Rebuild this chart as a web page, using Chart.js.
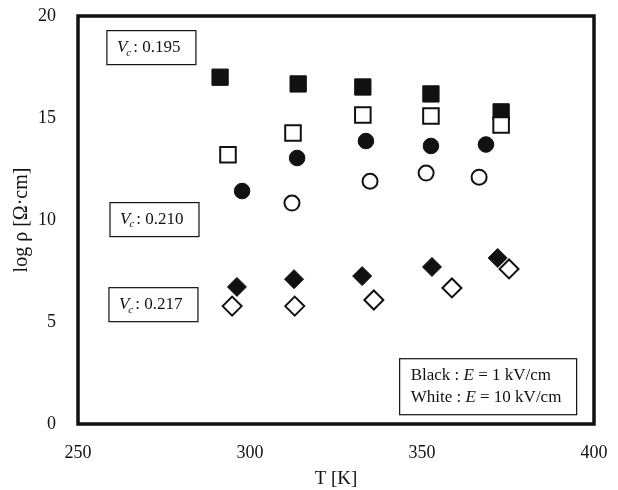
<!DOCTYPE html>
<html lang="en">
  <head>
    <title>log rho vs T</title>
    <meta charset="UTF-8" />
    <script src="https://cdnjs.cloudflare.com/ajax/libs/Chart.js/4.4.1/chart.umd.min.js"></script>
    <style>
      html, body { margin: 0; padding: 0; background: #fff; }
      #wrap { width: 618px; height: 490px; }
    </style>
  </head>
  <body>
    <div id="wrap"><canvas id="grafico"></canvas></div>
    <script>
      // data (T in K, log rho)
      const xTicks = [250, 300, 350, 400];
      const yTicks = [0, 5, 10, 15, 20];
      const vcValues = ['0.195', '0.210', '0.217'];

      const sqBlackT = [291.3, 314.0, 332.8, 352.6, 373.0];
      const sqBlackR = [17.0, 16.67, 16.52, 16.18, 15.3];
      const sqWhiteT = [293.6, 312.5, 332.8, 352.6, 373.0];
      const sqWhiteR = [13.2, 14.26, 15.15, 15.1, 14.66];

      const ciBlackT = [297.7, 313.7, 333.7, 352.6, 368.6];
      const ciBlackR = [11.42, 13.04, 13.87, 13.63, 13.7];
      const ciWhiteT = [312.2, 334.9, 351.2, 366.6];
      const ciWhiteR = [10.83, 11.9, 12.3, 12.1];

      const diBlackT = [296.2, 312.8, 332.6, 352.9, 372.0];
      const diBlackR = [6.72, 7.1, 7.25, 7.7, 8.14];
      const diWhiteT = [294.8, 313.0, 336.0, 358.7, 375.3];
      const diWhiteR = [5.78, 5.78, 6.08, 6.67, 7.6];

      function pts(xs, ys) {
        return xs.map(function (x, i) { return { x: x, y: ys[i] }; });
      }

      var serif = '"Liberation Serif", "DejaVu Serif", serif';

      function mark(label, xs, ys, style, filled, r) {
        return {
          label: label,
          data: pts(xs, ys),
          pointStyle: style,
          pointRadius: r,
          pointHoverRadius: r,
          backgroundColor: filled ? '#111' : '#fff',
          borderColor: '#111',
          borderWidth: filled ? 1 : 2,
          showLine: false,
        };
      }

      // white first so they sit on top of the black ones
      var datasets = [
        mark('sq 10', sqWhiteT, sqWhiteR, 'rect', false, 11),
        mark('ci 10', ciWhiteT, ciWhiteR, 'circle', false, 7.5),
        mark('di 10', diWhiteT, diWhiteR, 'rectRot', false, 9.5),
        mark('sq 1', sqBlackT, sqBlackR, 'rect', true, 11.5),
        mark('ci 1', ciBlackT, ciBlackR, 'circle', true, 7.8),
        mark('di 1', diBlackT, diBlackR, 'rectRot', true, 9.5),
      ];

      // frame + text boxes
      var boxes = {
        id: 'boxes',
        afterDraw: function (chart) {
          var ctx = chart.ctx;
          var a = chart.chartArea;
          var xs = chart.scales.x, ys = chart.scales.y;
          ctx.save();
          ctx.strokeStyle = '#111';
          ctx.lineWidth = 3.5;
          ctx.strokeRect(a.left, a.top, a.right - a.left, a.bottom - a.top);

          // Vc boxes, anchored in data coords
          var spots = [[258.4, 18.45], [259.3, 10.02], [259.0, 5.85]];
          ctx.lineWidth = 1.2;
          ctx.textBaseline = 'middle';
          vcValues.forEach(function (v, i) {
            var bx = xs.getPixelForValue(spots[i][0]);
            var by = ys.getPixelForValue(spots[i][1]);
            ctx.fillStyle = '#fff';
            ctx.fillRect(bx, by - 17, 89, 34);
            ctx.strokeRect(bx, by - 17, 89, 34);
            ctx.fillStyle = '#111';
            var tx = bx + 10;
            ctx.font = 'italic 17px ' + serif;
            ctx.fillText('V', tx, by);
            tx += ctx.measureText('V').width;
            ctx.font = 'italic 11px ' + serif;
            ctx.fillText('c', tx - 1, by + 5);
            tx += ctx.measureText('c').width + 1;
            ctx.font = '17px ' + serif;
            ctx.fillText(': ' + v, tx, by);
          });

          // field legend
          var lx = xs.getPixelForValue(343.5);
          var ly = ys.getPixelForValue(3.2);
          ctx.fillStyle = '#fff';
          ctx.fillRect(lx, ly, 177, 56);
          ctx.strokeRect(lx, ly, 177, 56);
          ctx.fillStyle = '#111';
          var rows = [['Black : ', ' = 1 kV/cm'], ['White : ', ' = 10 kV/cm']];
          rows.forEach(function (r, i) {
            var tx = lx + 11;
            var ty = ly + 17 + i * 22;
            ctx.font = '17px ' + serif;
            ctx.fillText(r[0], tx, ty);
            tx += ctx.measureText(r[0]).width;
            ctx.font = 'italic 17px ' + serif;
            ctx.fillText('E', tx, ty);
            tx += ctx.measureText('E').width;
            ctx.font = '17px ' + serif;
            ctx.fillText(r[1], tx, ty);
          });
          ctx.restore();
        },
      };

      var chart = new Chart(document.getElementById('grafico'), {
        type: 'scatter',
        data: { datasets: datasets },
        plugins: [boxes],
        options: {
          responsive: true,
          maintainAspectRatio: false,
          animation: false,
          layout: { padding: { left: 6, right: 24, top: 16, bottom: 0 } },
          plugins: {
            legend: { display: false },
            tooltip: { enabled: false },
          },
          scales: {
            x: {
              type: 'linear',
              min: 250,
              max: 400,
              afterBuildTicks: function (s) {
                s.ticks = xTicks.map(function (v) { return { value: v }; });
              },
              afterFit: function (s) {
                s.height = 66;
                s.paddingLeft = 0;
                s.paddingRight = 0;
              },
              grid: { display: false },
              border: { display: false },
              ticks: {
                color: '#111',
                font: { family: serif, size: 18 },
                padding: 10,
              },
              title: {
                display: true,
                text: 'T [K]',
                color: '#111',
                font: { family: serif, size: 19 },
                padding: { top: 8, bottom: 0 },
              },
            },
            y: {
              type: 'linear',
              min: 0,
              max: 20,
              afterBuildTicks: function (s) {
                s.ticks = yTicks.map(function (v) { return { value: v }; });
              },
              afterFit: function (s) {
                s.width = 72;
                s.paddingTop = 0;
                s.paddingBottom = 0;
              },
              grid: { display: false },
              border: { display: false },
              ticks: {
                color: '#111',
                font: { family: serif, size: 18 },
                padding: 14,
              },
              title: {
                display: true,
                text: 'log ρ [Ω·cm]',
                color: '#111',
                font: { family: serif, size: 20 },
                padding: { bottom: 0 },
              },
            },
          },
        },
      });
    </script>
  </body>
</html>
